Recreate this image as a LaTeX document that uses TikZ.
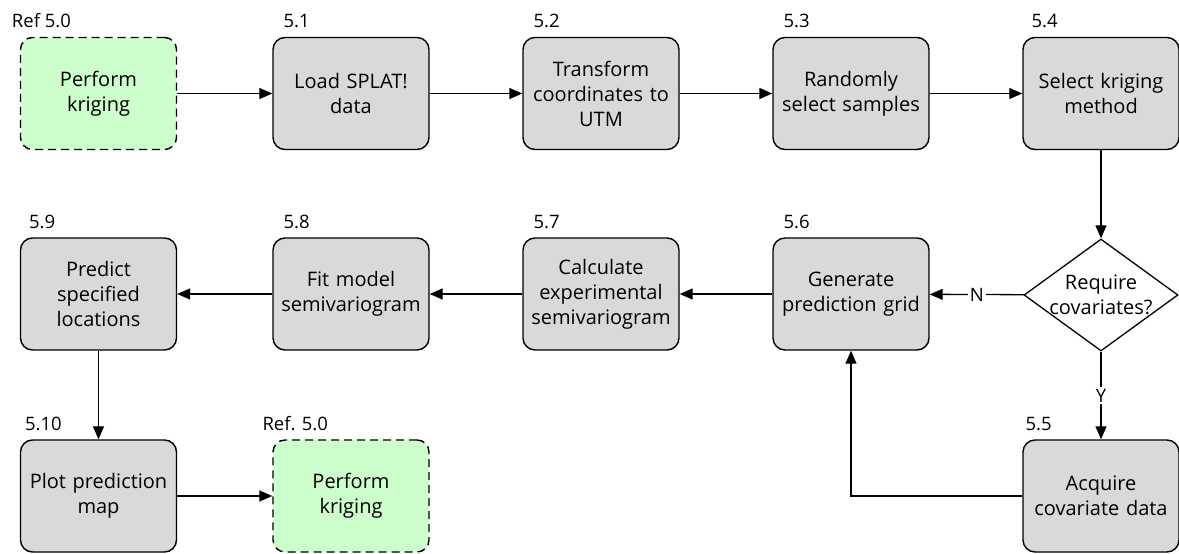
\documentclass[tikz,border=0pt]{standalone}
\usepackage{fontspec}
\setmainfont{Open Sans}
\usepackage{tikz}
\usetikzlibrary{arrows.meta,positioning,shapes.geometric}
\definecolor{stepgray}{HTML}{D9D9D9}
\definecolor{refgreen}{HTML}{CCFFCC}
\tikzset{
  stepbox/.style={draw, line width=1.4pt, rounded corners=12pt, fill=stepgray, minimum width=156pt, minimum height=112pt, text width=152pt, align=center, inner sep=0pt, font=\fontsize{20}{25}\selectfont},
  refbox/.style={stepbox, fill=refgreen, dash pattern=on 8pt off 5pt},
  decbox/.style={draw, line width=1.3pt, fill=white, diamond, aspect=1.375, minimum width=154pt, minimum height=112pt, inner sep=0pt, align=center, font=\fontsize{20}{25}\selectfont},
  numlab/.style={anchor=base west, inner sep=0pt, label distance=0pt, yshift=9pt, font=\fontsize{18.5}{20}\selectfont},
  flow/.style={line width=1.3pt, -{Triangle[length=13pt,width=11pt]}},
  yn/.style={fill=white, inner sep=2pt, font=\fontsize{18.5}{20}\selectfont}
}
\begin{document}
\begin{tikzpicture}[x=1pt,y=-1pt]
\useasboundingbox (0,0) rectangle (1179,554);
\node[refbox, label={[numlab,xshift=-8pt]north west:Ref 5.0}] (ref0) at (98.5,93.5) {Perform\\kriging};
\node[stepbox, label={[numlab,xshift=11pt]north west:5.1}] (load) at (351,93.5) {Load SPLAT!\\data};
\node[stepbox, label={[numlab,xshift=11pt]north west:5.2}] (transform) at (601,93.5) {Transform\\coordinates to\\UTM};
\node[stepbox, label={[numlab,xshift=11pt]north west:5.3}] (sample) at (851,93.5) {Randomly\\select samples};
\node[stepbox, label={[numlab,xshift=9pt]north west:5.4}] (method) at (1101,93.5) {Select kriging\\method};
\node[decbox] (covq) at (1101,295) {\makebox[0pt]{Require}\\\makebox[0pt]{covariates?}};
\node[stepbox, label={[numlab,xshift=3pt]north west:5.5}] (acquire) at (1101,496) {Acquire\\covariate data};
\node[stepbox, label={[numlab,xshift=11pt]north west:5.6}] (grid) at (851,294) {Generate\\prediction grid};
\node[stepbox, label={[numlab,xshift=11pt]north west:5.7}] (expvar) at (601,294) {Calculate\\experimental\\semivariogram};
\node[stepbox, label={[numlab,xshift=11pt]north west:5.8}] (fitvar) at (351,294) {Fit model\\semivariogram};
\node[stepbox, label={[numlab,xshift=9pt]north west:5.9}] (predict) at (98.5,294) {Predict\\specified\\locations};
\node[stepbox, label={[numlab,xshift=5pt]north west:5.10}] (plotmap) at (98.5,496) {Plot prediction\\map};
\node[refbox, label={[numlab,xshift=-10pt]north west:Ref. 5.0}] (refend) at (351,496) {Perform\\kriging};
\draw[flow] (ref0) -- (load);
\draw[flow] (load) -- (transform);
\draw[flow] (transform) -- (sample);
\draw[flow] (sample) -- (method);
\draw[flow] (method) -- (covq);
\draw[flow] (covq) -- node[yn, pos=0.5] {N} (grid);
\draw[flow] (covq) -- node[yn, pos=0.5] {Y} (acquire);
\draw[flow] (acquire.west) -| (grid.south);
\draw[flow] (grid) -- (expvar);
\draw[flow] (expvar) -- (fitvar);
\draw[flow] (fitvar) -- (predict);
\draw[flow] (predict) -- (plotmap);
\draw[flow] (plotmap) -- (refend);
\end{tikzpicture}
\end{document}
